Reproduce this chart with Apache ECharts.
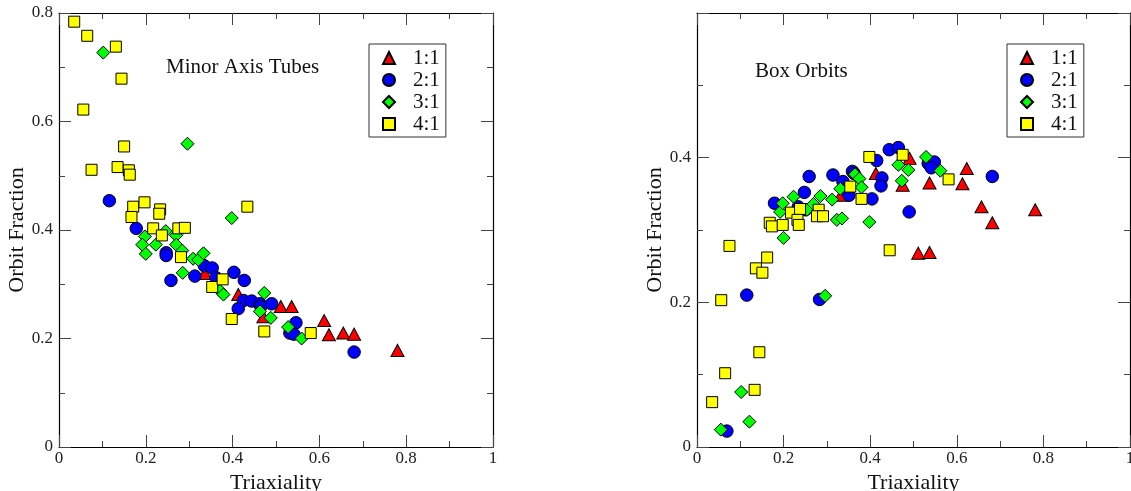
<!DOCTYPE html>
<html>
<head>
<meta charset="utf-8">
<script src="https://cdn.jsdelivr.net/npm/echarts@6/dist/echarts.min.js"></script>
<style>
  html, body { margin: 0; padding: 0; background: #fff; }
  #chart { width: 1131px; height: 491px; }
</style>
</head>
<body>
<div id="chart"></div>
<script>
// Orbit fraction vs. triaxiality, per axis ratio — [triaxiality, fraction]
const seriesNames = ['1:1', '2:1', '3:1', '4:1'];
const panelTitles = ['Minor Axis Tubes', 'Box Orbits'];
const xAxisName = 'Triaxiality';
const yAxisName = 'Orbit Fraction';

// Minor axis tubes
const tubeRatio11 = [[0.336,0.320],[0.413,0.281],[0.471,0.240],[0.511,0.259],[0.536,0.259],[0.611,0.233],[0.622,0.207],[0.655,0.210],[0.680,0.208],[0.780,0.178]];
const tubeRatio21 = [[0.116,0.454],[0.178,0.403],[0.247,0.358],[0.247,0.353],[0.258,0.307],[0.313,0.315],[0.335,0.334],[0.353,0.330],[0.362,0.312],[0.403,0.322],[0.427,0.307],[0.425,0.270],[0.413,0.255],[0.444,0.269],[0.463,0.264],[0.465,0.259],[0.490,0.264],[0.546,0.229],[0.532,0.210],[0.541,0.208],[0.680,0.175]];
const tubeRatio31 = [[0.102,0.727],[0.296,0.559],[0.398,0.422],[0.198,0.388],[0.192,0.373],[0.200,0.356],[0.223,0.373],[0.246,0.398],[0.270,0.390],[0.270,0.373],[0.284,0.362],[0.285,0.321],[0.309,0.347],[0.321,0.345],[0.333,0.357],[0.371,0.288],[0.379,0.281],[0.473,0.284],[0.463,0.250],[0.488,0.238],[0.528,0.221],[0.559,0.200]];
const tubeRatio41 = [[0.035,0.784],[0.065,0.758],[0.131,0.738],[0.144,0.679],[0.056,0.622],[0.150,0.554],[0.075,0.511],[0.135,0.516],[0.161,0.510],[0.163,0.502],[0.171,0.443],[0.197,0.451],[0.233,0.438],[0.231,0.430],[0.167,0.424],[0.434,0.443],[0.217,0.403],[0.237,0.390],[0.275,0.403],[0.290,0.404],[0.281,0.350],[0.353,0.295],[0.377,0.309],[0.398,0.236],[0.473,0.213],[0.580,0.210]];

// Box orbits
const boxRatio11 = [[0.332,0.348],[0.413,0.378],[0.475,0.362],[0.491,0.399],[0.537,0.365],[0.613,0.364],[0.623,0.385],[0.657,0.332],[0.682,0.310],[0.781,0.328],[0.511,0.268],[0.537,0.269]];
const boxRatio21 = [[0.069,0.022],[0.115,0.210],[0.283,0.204],[0.179,0.337],[0.234,0.332],[0.250,0.328],[0.248,0.352],[0.259,0.374],[0.314,0.376],[0.337,0.367],[0.351,0.348],[0.359,0.381],[0.363,0.378],[0.404,0.343],[0.415,0.396],[0.427,0.372],[0.425,0.361],[0.444,0.411],[0.465,0.414],[0.490,0.325],[0.534,0.392],[0.548,0.394],[0.541,0.386],[0.682,0.374]];
const boxRatio31 = [[0.055,0.024],[0.102,0.076],[0.121,0.035],[0.296,0.209],[0.200,0.289],[0.192,0.325],[0.198,0.337],[0.223,0.346],[0.254,0.328],[0.269,0.336],[0.285,0.347],[0.312,0.342],[0.323,0.314],[0.335,0.316],[0.331,0.357],[0.365,0.377],[0.375,0.371],[0.380,0.359],[0.398,0.311],[0.465,0.390],[0.488,0.383],[0.473,0.368],[0.529,0.401],[0.562,0.382]];
const boxRatio41 = [[0.035,0.062],[0.065,0.102],[0.133,0.079],[0.144,0.131],[0.056,0.203],[0.075,0.278],[0.136,0.247],[0.151,0.241],[0.162,0.262],[0.168,0.310],[0.173,0.305],[0.198,0.307],[0.217,0.324],[0.238,0.329],[0.232,0.314],[0.235,0.307],[0.281,0.328],[0.277,0.319],[0.291,0.319],[0.354,0.360],[0.380,0.343],[0.398,0.401],[0.445,0.272],[0.475,0.404],[0.581,0.370]];

const FONT = 'Liberation Serif';

// marker style per axis ratio
const markers = [
  { symbol: 'triangle', size: [13, 12], color: '#ff0000' },
  { symbol: 'circle',   size: 12.5,     color: '#0000ff' },
  { symbol: 'diamond',  size: 13,       color: '#00ff00' },
  { symbol: 'rect',     size: 11,       color: '#ffff00' }
];

const panels = [
  { grid: { left: 59, top: 13, width: 434, height: 434 }, yMax: 0.8,
    data: [tubeRatio11, tubeRatio21, tubeRatio31, tubeRatio41],
    title: { left: 166, top: 57 }, legend: { left: 369, top: 44 } },
  { grid: { left: 697, top: 13, width: 433, height: 434 }, yMax: 0.6,
    data: [boxRatio11, boxRatio21, boxRatio31, boxRatio41],
    title: { left: 755, top: 61 }, legend: { left: 1007, top: 44 } }
];

const lineStyle = { color: '#000', width: 1.2 };
const majorTick = { show: true, inside: true, length: 12, lineStyle: { color: '#444', width: 1 } };
const minorTick = { show: true, splitNumber: 2, length: 6, lineStyle: { color: '#444', width: 1 } };
const labelStyle = { fontFamily: FONT, fontSize: 17, color: '#222' };

const grids = [], xAxes = [], yAxes = [], series = [], titles = [], legends = [];

panels.forEach((p, i) => {
  // fixed plot rectangles; labels and names may sit outside them
  grids.push(Object.assign({ containLabel: false, outerBoundsMode: 'none' }, p.grid));

  // bottom axis with labels, top mirror with ticks only
  xAxes.push({
    type: 'value', gridIndex: i, min: 0, max: 1, interval: 0.2, position: 'bottom',
    name: xAxisName, nameLocation: 'middle', nameGap: 19,
    nameTextStyle: { fontFamily: FONT, fontSize: 22, color: '#111' },
    axisLine: { show: true, onZero: false, lineStyle },
    axisTick: majorTick, minorTick,
    axisLabel: Object.assign({ margin: 3 }, labelStyle),
    splitLine: { show: false }
  });
  xAxes.push({
    type: 'value', gridIndex: i, min: 0, max: 1, interval: 0.2, position: 'top',
    axisLine: { show: true, onZero: false, lineStyle },
    axisTick: majorTick, minorTick,
    axisLabel: { show: false }, splitLine: { show: false }
  });

  // left axis with labels, right mirror with ticks only
  yAxes.push({
    type: 'value', gridIndex: i, min: 0, max: p.yMax, interval: 0.2, position: 'left',
    name: yAxisName, nameLocation: 'middle', nameGap: 27,
    nameTextStyle: { fontFamily: FONT, fontSize: 22, color: '#111' },
    axisLine: { show: true, onZero: false, lineStyle },
    axisTick: majorTick, minorTick,
    axisLabel: Object.assign({ margin: 6, showMaxLabel: i === 0 }, labelStyle),
    splitLine: { show: false }
  });
  yAxes.push({
    type: 'value', gridIndex: i, min: 0, max: p.yMax, interval: 0.2, position: 'right',
    axisLine: { show: true, onZero: false, lineStyle },
    axisTick: majorTick, minorTick,
    axisLabel: { show: false }, splitLine: { show: false }
  });

  p.data.forEach((d, k) => {
    const m = markers[k];
    series.push({
      type: 'scatter', name: seriesNames[k],
      xAxisIndex: i * 2, yAxisIndex: i * 2,
      symbol: m.symbol, symbolSize: m.size,
      itemStyle: { color: m.color, borderColor: '#000', borderWidth: 1, opacity: 1 },
      emphasis: { disabled: true },
      data: d
    });
  });

  titles.push({
    text: panelTitles[i], left: p.title.left, top: p.title.top, padding: 0,
    textStyle: { fontFamily: FONT, fontSize: 21, fontWeight: 'normal', color: '#111' }
  });

  legends.push({
    data: seriesNames, orient: 'vertical',
    left: p.legend.left, top: p.legend.top,
    padding: [3, 6, 2, 13], itemGap: 0,
    itemWidth: 12, itemHeight: 12,
    borderColor: '#333', borderWidth: 1, backgroundColor: '#fff',
    selectedMode: false,
    textStyle: { fontFamily: FONT, fontSize: 21, lineHeight: 22, color: '#111', padding: [0, 0, 0, 13] }
  });
});

const chart = echarts.init(document.getElementById('chart'), null, { renderer: 'canvas' });
chart.setOption({
  animation: false,
  backgroundColor: '#fff',
  title: titles,
  legend: legends,
  grid: grids,
  xAxis: xAxes,
  yAxis: yAxes,
  series: series
});
</script>
</body>
</html>
